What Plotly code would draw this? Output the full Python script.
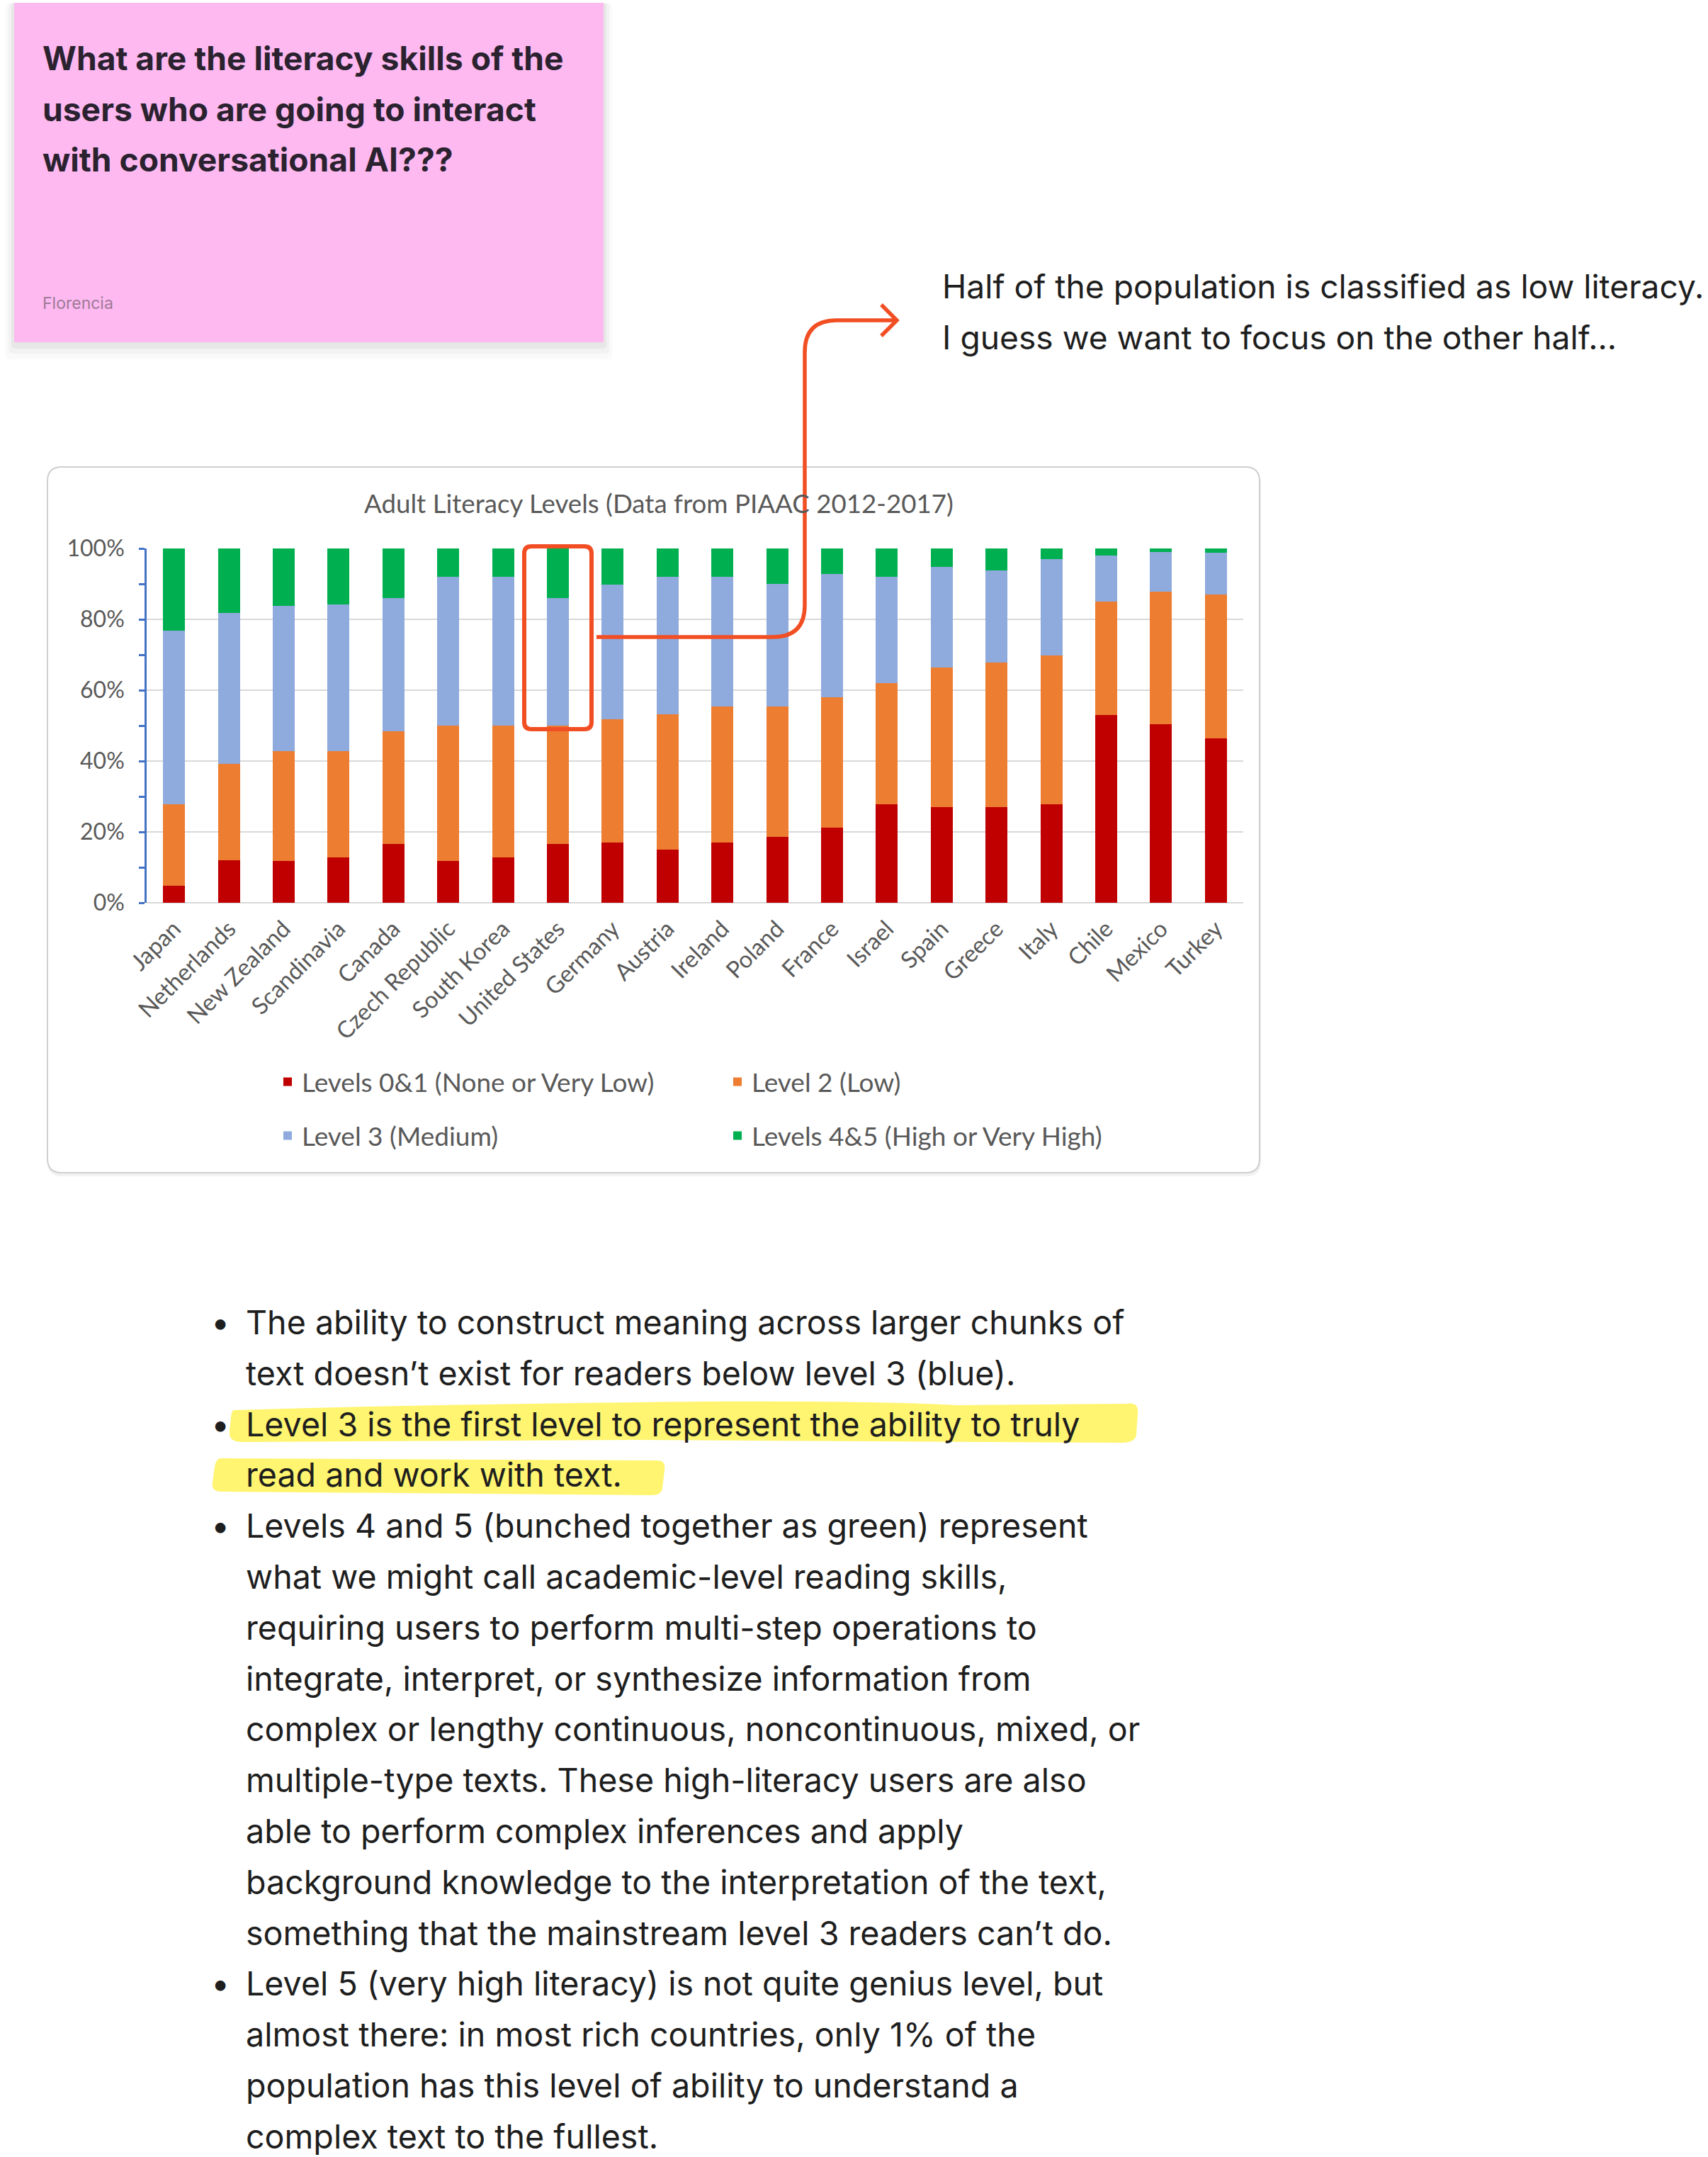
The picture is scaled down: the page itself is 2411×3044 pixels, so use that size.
import plotly.graph_objects as go

# ---------------- data ----------------
countries = ["Japan", "Netherlands", "New Zealand", "Scandinavia", "Canada",
             "Czech Republic", "South Korea", "United States", "Germany", "Austria",
             "Ireland", "Poland", "France", "Israel", "Spain", "Greece", "Italy",
             "Chile", "Mexico", "Turkey"]
level01 = [4.8, 12.0, 11.9, 12.9, 16.7, 11.8, 12.8, 16.7, 17.1, 15.1,
           17.0, 18.6, 21.3, 27.9, 27.1, 27.0, 27.9, 53.0, 50.4, 46.4]
level2 = [23.1, 27.2, 30.9, 30.0, 31.7, 38.2, 37.2, 33.4, 34.7, 38.2,
          38.5, 36.8, 36.8, 34.1, 39.4, 40.9, 42.0, 32.0, 37.4, 40.7]
level3 = [49.0, 42.6, 41.1, 41.3, 37.7, 42.0, 42.0, 35.9, 38.0, 38.7,
          36.5, 34.6, 34.7, 30.0, 28.4, 26.0, 27.1, 13.0, 11.2, 11.8]
level45 = [23.1, 18.2, 16.1, 15.8, 13.9, 8.0, 8.0, 14.0, 10.2, 8.0,
           8.0, 10.0, 7.2, 8.0, 5.1, 6.1, 3.0, 2.0, 1.0, 1.1]
series_names = ["Levels 0&1 (None or Very Low)", "Level 2 (Low)",
                "Level 3 (Medium)", "Levels 4&5 (High or Very High)"]
series_colors = ["#C00000", "#ED7D31", "#8FAADC", "#00B050"]
series_legend = ["legend", "legend", "legend2", "legend2"]
y_ticks = [0, 20, 40, 60, 80, 100]
y_ticktext = ["0%", "20%", "40%", "60%", "80%", "100%"]

chart_title = "Adult Literacy Levels (Data from PIAAC 2012-2017)"
sticky_lines = ["What are the literacy skills of the",
                "users who are going to interact",
                "with conversational AI???"]
sticky_author = "Florencia"
note_lines = ["Half of the population is classified as low literacy.",
              "I guess we want to focus on the other half..."]
body_lines = [
    "The ability to construct meaning across larger chunks of",
    "text doesn\u2019t exist for readers below level 3 (blue).",
    "Level 3 is the first level to represent the ability to truly",
    "read and work with text.",
    "Levels 4 and 5 (bunched together as green) represent",
    "what we might call academic-level reading skills,",
    "requiring users to perform multi-step operations to",
    "integrate, interpret, or synthesize information from",
    "complex or lengthy continuous, noncontinuous, mixed, or",
    "multiple-type texts. These high-literacy users are also",
    "able to perform complex inferences and apply",
    "background knowledge to the interpretation of the text,",
    "something that the mainstream level 3 readers can\u2019t do.",
    "Level 5 (very high literacy) is not quite genius level, but",
    "almost there: in most rich countries, only 1% of the",
    "population has this level of ability to understand a",
    "complex text to the fullest.",
]
bullet_rows = [0, 2, 4, 13]

# ---------------- page geometry helpers ----------------
W, H = 2411, 3044


def px(x):
    return x / W


def py(y):
    return 1 - y / H


def path(cmds):
    out = []
    for c in cmds:
        if c[0] == "Z":
            out.append("Z")
        else:
            nums = []
            vals = c[1:]
            for i in range(0, len(vals), 2):
                nums.append(f"{px(vals[i]):.6f},{py(vals[i + 1]):.6f}")
            out.append(c[0] + " " + " ".join(nums))
    return " ".join(out)


def rrect(x0, y0, x1, y1, r):
    return path([("M", x0 + r, y0), ("L", x1 - r, y0), ("Q", x1, y0, x1, y0 + r),
                 ("L", x1, y1 - r), ("Q", x1, y1, x1 - r, y1), ("L", x0 + r, y1),
                 ("Q", x0, y1, x0, y1 - r), ("L", x0, y0 + r), ("Q", x0, y0, x0 + r, y0), ("Z",)])


CHART_FONT = "Lato, 'Open Sans', sans-serif"
TEXT_FONT = "Inter, 'Noto Sans', sans-serif"
GREY = "#595959"
ACCENT = "#F24E23"
BODY_SIZE = 46.6

fig = go.Figure()
all_series = [level01, level2, level3, level45]
for name, vals, col, lg in zip(series_names, all_series, series_colors, series_legend):
    fig.add_trace(go.Bar(x=countries, y=vals, name=name, marker_color=col,
                         marker_line_width=0, legend=lg))

shapes = []
# sticky note shadow + body
for grow, alpha, dy in [(12, 0.02, 12), (8, 0.03, 8), (4, 0.045, 5)]:
    shapes.append(dict(type="path", xref="paper", yref="paper", layer="below",
                       path=rrect(20 - grow, 4, 852 + grow, 483 + dy + grow, 6),
                       fillcolor=f"rgba(0,0,0,{alpha})", line=dict(width=0)))
shapes.append(dict(type="rect", xref="paper", yref="paper", layer="below",
                   x0=px(20), x1=px(852), y0=py(483), y1=py(4),
                   fillcolor="#FDB9F0", line=dict(width=0)))
# chart card
shapes.append(dict(type="path", xref="paper", yref="paper", layer="below",
                   path=rrect(67, 663, 1780, 1660, 20),
                   fillcolor="rgba(0,0,0,0.05)", line=dict(width=0)))
shapes.append(dict(type="path", xref="paper", yref="paper", layer="below",
                   path=rrect(67, 659, 1778, 1655, 20),
                   fillcolor="#FFFFFF", line=dict(color="#CFCFCF", width=2)))
# highlighter strokes
shapes.append(dict(type="path", xref="paper", yref="paper", layer="below",
                   path=path([("M", 330, 1990), ("Q", 600, 1982, 900, 1979),
                              ("Q", 1200, 1975, 1350, 1983), ("L", 1590, 1981),
                              ("Q", 1608, 1978, 1606, 1995), ("L", 1604, 2025),
                              ("Q", 1602, 2037, 1580, 2036), ("L", 900, 2032),
                              ("L", 345, 2035), ("Q", 322, 2036, 324, 2020),
                              ("L", 326, 2000), ("Q", 327, 1991, 330, 1990), ("Z",)]),
                   fillcolor="#FFF570", line=dict(width=0)))
shapes.append(dict(type="path", xref="paper", yref="paper", layer="below",
                   path=path([("M", 312, 2058), ("L", 930, 2061), ("Q", 940, 2062, 938, 2075),
                              ("L", 935, 2100), ("Q", 934, 2110, 920, 2110), ("L", 310, 2105),
                              ("Q", 298, 2104, 300, 2092), ("L", 303, 2070),
                              ("Q", 305, 2058, 312, 2058), ("Z",)]),
                   fillcolor="#FFF570", line=dict(width=0)))
# highlight box around United States bar
shapes.append(dict(type="path", xref="paper", yref="paper", layer="above",
                   path=rrect(740, 771, 835, 1029, 10),
                   line=dict(color=ACCENT, width=6)))
# connector arrow
shapes.append(dict(type="path", xref="paper", yref="paper", layer="above",
                   path=path([("M", 842, 899), ("L", 1091, 899), ("Q", 1136, 899, 1136, 854),
                              ("L", 1136, 497), ("Q", 1136, 452, 1181, 452), ("L", 1266, 452)]),
                   line=dict(color=ACCENT, width=5.5)))
shapes.append(dict(type="path", xref="paper", yref="paper", layer="above",
                   path=path([("M", 1244, 430), ("L", 1266, 452), ("L", 1244, 474)]),
                   line=dict(color=ACCENT, width=5.5)))

annotations = []
annotations.append(dict(text=chart_title, x=px(930), y=py(710), xref="paper", yref="paper",
                        showarrow=False, xanchor="center", yanchor="middle",
                        font=dict(family=CHART_FONT, size=36.7, color=GREY)))
for i, t in enumerate(sticky_lines):
    annotations.append(dict(text=f"<b>{t}</b>", x=px(58), y=py(82 + 71.5 * i), xref="paper",
                            yref="paper", showarrow=False, xanchor="left", yanchor="middle",
                            font=dict(family=TEXT_FONT, size=46.2, color="#2B2230")))
annotations.append(dict(text=sticky_author, x=px(58), y=py(428), xref="paper", yref="paper",
                        showarrow=False, xanchor="left", yanchor="middle",
                        font=dict(family=TEXT_FONT, size=23, color="#9E7A97")))
for i, t in enumerate(note_lines):
    annotations.append(dict(text=t, x=px(1328), y=py(404 + 72 * i), xref="paper", yref="paper",
                            showarrow=False, xanchor="left", yanchor="middle",
                            font=dict(family=TEXT_FONT, size=46.2, color="#1E1E1E")))
for i, t in enumerate(body_lines):
    yy = 1866 + 71.8 * i
    annotations.append(dict(text=t, x=px(345), y=py(yy), xref="paper", yref="paper",
                            showarrow=False, xanchor="left", yanchor="middle",
                            font=dict(family=TEXT_FONT, size=BODY_SIZE, color="#1E1E1E")))
    if i in bullet_rows:
        annotations.append(dict(text="\u2022", x=px(311), y=py(yy), xref="paper", yref="paper",
                                showarrow=False, xanchor="center", yanchor="middle",
                                font=dict(family=TEXT_FONT, size=BODY_SIZE, color="#1E1E1E")))

legend_common = dict(orientation="h", xanchor="left", yanchor="middle", traceorder="normal",
                     entrywidth=590, entrywidthmode="pixels", bgcolor="rgba(0,0,0,0)",
                     font=dict(family=CHART_FONT, size=37, color=GREY), itemclick=False)

fig.update_layout(
    width=W, height=H, margin=dict(l=0, r=0, t=0, b=0, autoexpand=False),
    paper_bgcolor="#FFFFFF", plot_bgcolor="rgba(0,0,0,0)",
    barmode="stack", bargap=0.6,
    showlegend=True,
    legend=dict(x=px(386), y=py(1527), **legend_common),
    legend2=dict(x=px(386), y=py(1603), **legend_common),
    xaxis=dict(domain=[px(207), px(1755)], range=[-0.5, 19.5], showgrid=False,
               automargin=False,
               showline=False, zeroline=False, ticks="", tickangle=-45,
               ticklabelstandoff=10,
               tickfont=dict(family=CHART_FONT, size=33, color=GREY)),
    yaxis=dict(domain=[py(1274), py(774)], range=[0, 100], tickmode="array",
               automargin=False,
               tickvals=y_ticks, ticktext=y_ticktext,
               showgrid=True, gridcolor="#D9D9D9", gridwidth=2,
               zeroline=True, zerolinecolor="#D9D9D9", zerolinewidth=2,
               showline=True, linecolor="#4472C4", linewidth=2.5,
               ticks="outside", ticklen=8, tickwidth=2.5, tickcolor="#4472C4",
               minor=dict(dtick=10, ticks="outside", ticklen=8, tickwidth=2.5,
                          tickcolor="#4472C4", showgrid=False),
               ticklabelstandoff=14,
               tickfont=dict(family=CHART_FONT, size=32, color=GREY)),
    shapes=shapes, annotations=annotations,
)

fig.write_html("out.html", config={"displayModeBar": False},
               post_script="document.body.style.margin='0';document.body.style.padding='0';")
